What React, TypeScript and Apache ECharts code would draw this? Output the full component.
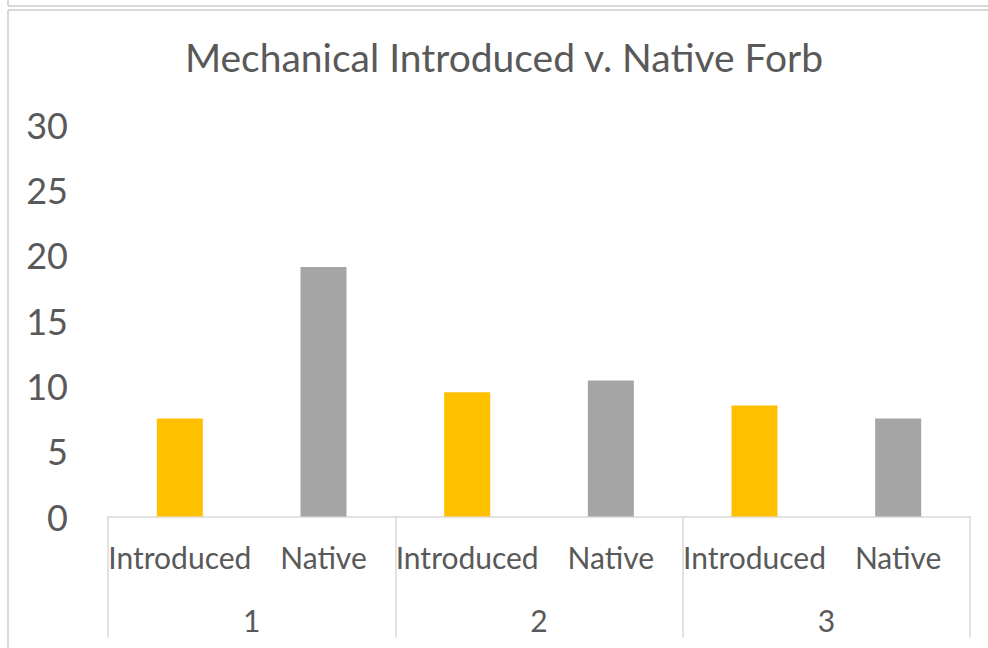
import React, { useEffect, useRef } from "react";
import * as echarts from "echarts";

const titleText = "Mechanical Introduced v. Native Forb";
const groups = ["1", "2", "3"];
const subCategories = ["Introduced", "Native"];
const introducedValues = [7.5, 9.5, 8.5];
const nativeValues = [19.1, 10.4, 7.5];
const yTicks = { min: 0, max: 30, interval: 5 };
const colors = { Introduced: "#FFC000", Native: "#A5A5A5" };

export default function App() {
  const ref = useRef<HTMLDivElement>(null);
  useEffect(() => {
    document.body.style.margin = "0";
    if (!ref.current) return;
    const chart = echarts.init(ref.current, undefined, { renderer: "svg" });
    const cats: string[] = [];
    const data: any[] = [];
    groups.forEach((g, i) => {
      cats.push(subCategories[0]);
      data.push({ value: introducedValues[i], itemStyle: { color: colors.Introduced } });
      cats.push(subCategories[1]);
      data.push({ value: nativeValues[i], itemStyle: { color: colors.Native } });
    });
    const font = "Lato, 'Open Sans', sans-serif";
    const textColor = "#595959";
    const lineColor = "#D9D9D9";
    chart.setOption({
      animation: false,
      backgroundColor: "#ffffff",
      title: {
        text: titleText,
        left: 499,
        textAlign: "center",
        top: 32,
        textStyle: { fontFamily: font, fontSize: 39, fontWeight: "normal", color: textColor },
      },
      grid: { left: 108, right: 18, top: 124.5, bottom: 131.5, containLabel: false },
      xAxis: [
        {
          type: "category",
          data: cats,
          position: "bottom",
          axisLine: { show: true, lineStyle: { color: lineColor, width: 1.5 } },
          axisTick: { show: false },
          axisLabel: {
            interval: 0,
            margin: 25,
            fontFamily: font,
            fontSize: 30,
            color: textColor,
          },
        },
        {
          type: "category",
          data: groups,
          position: "bottom",
          axisLine: { show: false },
          axisTick: { show: true, length: 121, lineStyle: { color: lineColor, width: 1.5 } },
          axisLabel: {
            margin: 88,
            fontFamily: font,
            fontSize: 30,
            color: textColor,
          },
        },
      ],
      yAxis: {
        type: "value",
        min: yTicks.min,
        max: yTicks.max,
        interval: yTicks.interval,
        axisLine: { show: false },
        axisTick: { show: false },
        splitLine: { show: false },
        axisLabel: { margin: 40, fontFamily: font, fontSize: 36, color: textColor },
      },
      series: [
        {
          type: "bar",
          xAxisIndex: 0,
          data,
          barWidth: 46,
        },
      ],
      graphic: [
        { type: "line", shape: { x1: 8, y1: 0, x2: 8, y2: 6 }, style: { stroke: lineColor, lineWidth: 2 } },
        { type: "line", shape: { x1: 8, y1: 6, x2: 988, y2: 6 }, style: { stroke: lineColor, lineWidth: 2 } },
        { type: "line", shape: { x1: 8, y1: 10, x2: 988, y2: 10 }, style: { stroke: lineColor, lineWidth: 2 } },
        { type: "line", shape: { x1: 8, y1: 10, x2: 8, y2: 648 }, style: { stroke: lineColor, lineWidth: 2 } },
      ],
    });
    return () => chart.dispose();
  }, []);
  return <div ref={ref} style={{ width: 988, height: 648 }} />;
}
